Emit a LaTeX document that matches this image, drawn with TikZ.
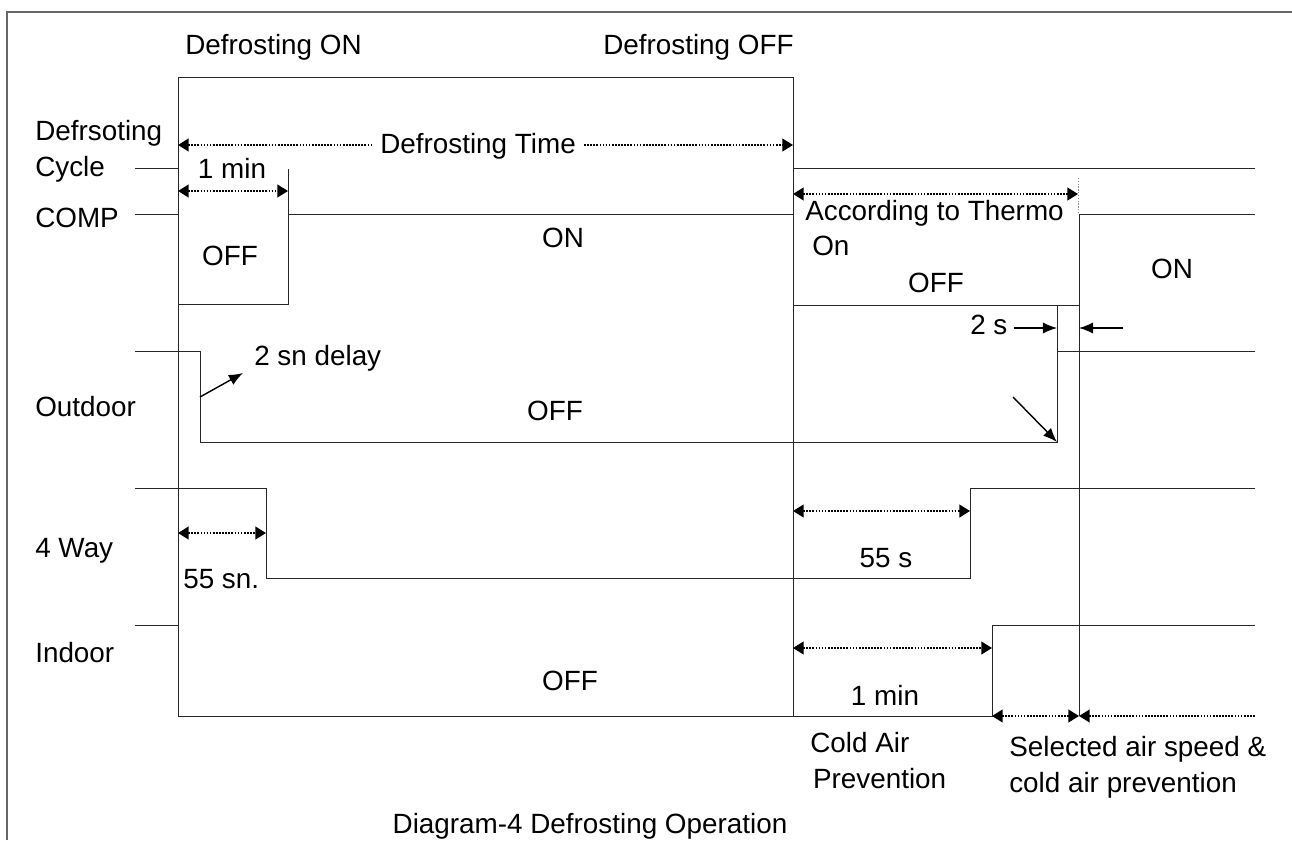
\documentclass[tikz,border=0pt]{standalone}
\usepackage{fontspec}
\setmainfont{Liberation Sans}
\usetikzlibrary{arrows.meta,positioning,calc}
\tikzset{
  sig/.style={black!85, line width=0.7pt},
  frm/.style={black!60, line width=1.3pt},
  lbl/.style={font=\fontsize{19.8}{25.5}\selectfont, inner sep=0pt, anchor=base west, align=left},
  clbl/.style={lbl, anchor=base},
  dimarr/.style={{Triangle[length=7.5pt,width=9pt]}-{Triangle[length=7.5pt,width=9pt]},
                 dash pattern=on 1.2pt off 1pt, line width=1.2pt},
  dimL/.style={dimarr, {Triangle[length=7.5pt,width=9pt]}-},
  dimR/.style={dimarr, -{Triangle[length=7.5pt,width=9pt]}},
  parr/.style={-{Latex[length=10pt,width=8pt]}, line width=1pt},
  guide/.style={black!45, dash pattern=on 1pt off 1pt, line width=0.7pt},
}

\begin{document}
\begin{tikzpicture}[x=0.025cm, y=-0.025cm]
  \useasboundingbox (0,0) rectangle (1292,840);
  \draw[frm] (7,840) -- (7,12) -- (1292,12);

  % defrosting cycle
  \draw[sig] (135,168) -- (178,168);
  \draw[sig] (178,716) -- (178,77) -- (793,77) -- (793,716);
  \draw[sig] (793,168) -- (1255,168);
  % compressor
  \draw[sig] (135,214) -- (178,214);
  \draw[sig] (178,304) -- (288,304) -- (288,169);
  \draw[sig] (288,214) -- (793,214);
  \draw[sig] (793,305) -- (1079,305);
  \draw[sig] (1079,716) -- (1079,214) -- (1255,214);
  % outdoor fan
  \draw[sig] (135,351) -- (200,351) -- (200,442) -- (1057,442) -- (1057,305);
  \draw[sig] (1057,351) -- (1255,351);
  % 4 way valve
  \draw[sig] (135,488) -- (266,488) -- (266,578) -- (970,578) -- (970,488) -- (1255,488);
  % indoor fan
  \draw[sig] (135,625) -- (178,625);
  \draw[sig] (178,716) -- (992,716) -- (992,625) -- (1255,625);

  % labels
  \node[lbl] (don) at (185,55) {Defrosting ON};
  \node[lbl] (doff) at (603,55) {Defrosting OFF};
  \node[lbl] (cyc) at (35,176) {Defrsoting\\Cycle};
  \node[lbl] (comp) at (35,227) {COMP};
  \node[lbl] (outd) at (35,416) {Outdoor};
  \node[lbl] (fway) at (35,557) {4 Way};
  \node[lbl] (ind) at (35,662) {Indoor};

  \node[lbl, inner xsep=0.2cm] (dtime) at (372,153) {Defrosting Time};
  \draw[dimL] (178,145) -- (dtime.west |- 0,145);
  \draw[dimR] (dtime.east |- 0,145) -- (793,145);

  \node[clbl] (onemin) at (232,178) {1 min};
  \draw[dimarr] (178,191) -- (288,191);
  \node[clbl] (compoff) at (230,265) {OFF};
  \node[clbl] (compon) at (563,247) {ON};

  \draw[dimarr] (793,194) -- (1078,194);
  \draw[guide] (1078,178) -- (1078,212);
  \node[lbl] (thermo) at (805,220) {According to Thermo};
  \node[lbl] (thon) at (812,255) {On};
  \node[clbl] (roff) at (936,292) {OFF};
  \node[clbl] (ron) at (1172,278) {ON};

  \node[lbl] (delay) at (254,365) {2 sn delay};
  \draw[parr] (200,397) -- (243,373);
  \node[clbl] (outoff) at (555,420) {OFF};

  \node[lbl, inner xsep=0.15cm] (twos) at (964,334) {2 s};
  \draw[parr] (twos.east |- 0,328) -- (1057,328);
  \draw[parr] (1123,328) -- (1079,328);
  \draw[parr] (1013,397) -- (1057,442);

  \draw[dimarr] (178,533) -- (266,533);
  \node[lbl] (fsn) at (183,588) {55 sn.};
  \draw[dimarr] (793,511) -- (970,511);
  \node[clbl] (fs) at (886,567) {55 s};

  \node[clbl] (indoff) at (570,690) {OFF};
  \draw[dimarr] (793,648) -- (992,648);
  \node[clbl] (imin) at (885,705) {1 min};
  \draw[dimarr] (992,716) -- (1079,716);
  \draw[dimL] (1079,716) -- (1255,716);

  \node[lbl] (cold) at (810,788) {Cold Air\\\hspace*{2pt}Prevention};
  \node[lbl] (sel) at (1009,792) {Selected air speed \&\\cold air prevention};
  \node[clbl] (cap) at (590,833) {Diagram-4 Defrosting Operation};
\end{tikzpicture}
\end{document}
